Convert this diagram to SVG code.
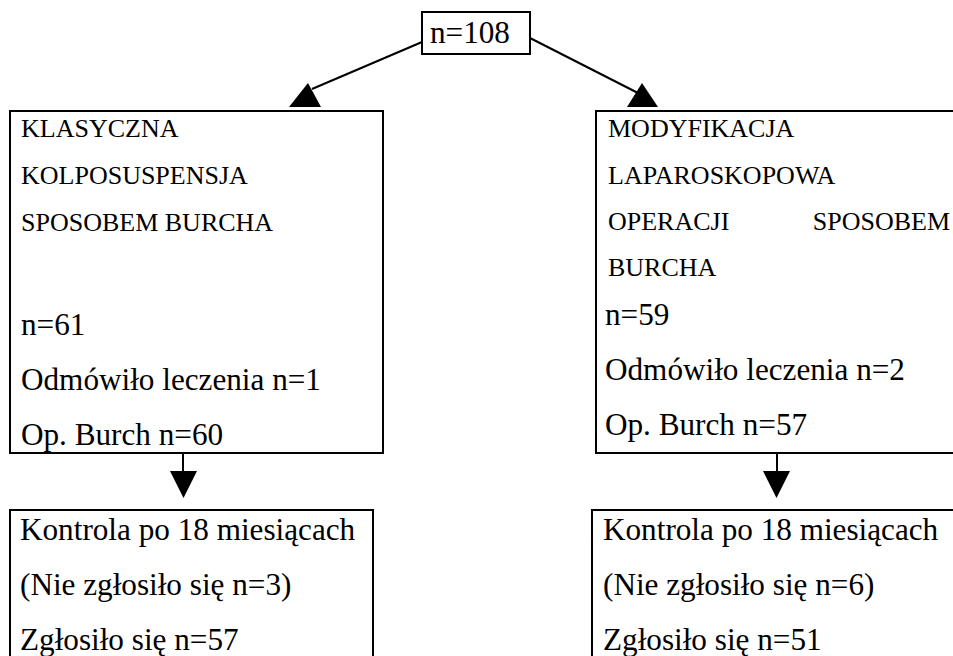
<svg xmlns="http://www.w3.org/2000/svg" width="953" height="656" viewBox="0 0 953 656">
<style>
.box{fill:#fff;stroke:#000;stroke-width:2}
text{font-family:"Liberation Serif",Tinos,"Times New Roman",Times,"DejaVu Serif","Noto Serif",serif;fill:#000}
.s{font-size:26px}
.l{font-size:31.2px}
.c{stroke:#000;stroke-width:2;fill:none}
.h{fill:#000;stroke:none}
</style>
<rect width="953" height="656" fill="#fff"/>
<g id="connectors">
<line class="c" x1="422" y1="42" x2="312" y2="89"/>
<polygon class="h" points="308,83 289,107 321,107"/>
<line class="c" x1="530" y1="38" x2="638" y2="93"/>
<polygon class="h" points="642,83 627,107 658,107"/>
<line class="c" x1="183" y1="453" x2="183" y2="472"/>
<polygon class="h" points="170,471 197,471 183.5,498"/>
<line class="c" x1="777" y1="453" x2="777" y2="472"/>
<polygon class="h" points="763,471 790,471 776.5,498"/>
</g>
<g id="top">
<rect class="box" x="422" y="12" width="108" height="42"/>
<text class="l" x="430" y="43">n=108</text>
</g>
<g id="left">
<rect class="box" x="10" y="111" width="373" height="342"/>
<text class="s" x="21" y="137">KLASYCZNA</text>
<text class="s" x="21" y="184">KOLPOSUSPENSJA</text>
<text class="s" x="21" y="231">SPOSOBEM BURCHA</text>
<text class="l" x="21" y="335">n=61</text>
<text class="l" x="21" y="390">Odmówiło leczenia n=1</text>
<text class="l" x="21" y="445">Op. Burch n=60</text>
</g>
<g id="right">
<rect class="box" x="596" y="111" width="370" height="342"/>
<text class="s" x="608" y="137">MODYFIKACJA</text>
<text class="s" x="608" y="184">LAPAROSKOPOWA</text>
<text class="s" y="230"><tspan x="608">OPERACJI</tspan><tspan x="950" text-anchor="end">SPOSOBEM</tspan></text>
<text class="s" x="608" y="276">BURCHA</text>
<text class="l" x="605" y="325">n=59</text>
<text class="l" x="605" y="380">Odmówiło leczenia n=2</text>
<text class="l" x="605" y="435">Op. Burch n=57</text>
</g>
<g id="bottom-left">
<rect class="box" x="10" y="510" width="363" height="160"/>
<text class="l" x="20" y="540">Kontrola po 18 miesiącach</text>
<text class="l" x="20" y="595">(Nie zgłosiło się n=3)</text>
<text class="l" x="20" y="650">Zgłosiło się n=57</text>
</g>
<g id="bottom-right">
<rect class="box" x="592" y="510" width="380" height="160"/>
<text class="l" x="603" y="540">Kontrola po 18 miesiącach</text>
<text class="l" x="603" y="595">(Nie zgłosiło się n=6)</text>
<text class="l" x="603" y="650">Zgłosiło się n=51</text>
</g>
</svg>
